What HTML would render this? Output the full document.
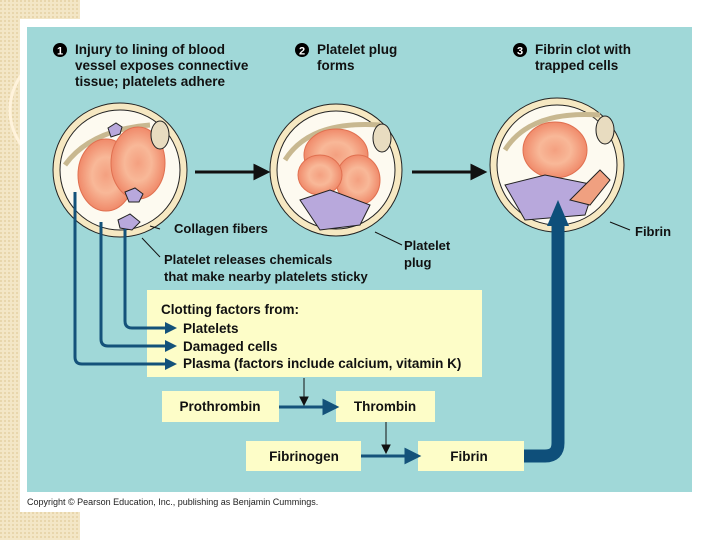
<!DOCTYPE html>
<html><head><meta charset="utf-8"><style>
html,body{margin:0;padding:0;width:720px;height:540px;overflow:hidden;background:#fff;font-family:"Liberation Sans",sans-serif;}
</style></head><body>
<svg width="720" height="540" viewBox="0 0 720 540" xmlns="http://www.w3.org/2000/svg" font-family="Liberation Sans, sans-serif">
<defs>
<pattern id="p" width="4" height="4" patternUnits="userSpaceOnUse"><rect width="4" height="4" fill="#f3e6c6"/><rect width="2" height="2" fill="#e8d6ac"/></pattern>
<radialGradient id="rbc" cx="50%" cy="50%" r="50%"><stop offset="0" stop-color="#f4a080"/><stop offset="0.5" stop-color="#f8b898"/><stop offset="1" stop-color="#f08a6a"/></radialGradient>
</defs>
<rect x="0" y="0" width="80" height="540" fill="url(#p)"/>
<circle cx="70" cy="110" r="60" fill="none" stroke="#fff3dc" stroke-width="3"/>
<rect x="20" y="19" width="700" height="493" fill="#fff"/>
<rect x="80" y="512" width="640" height="28" fill="#fff"/>
<rect x="27" y="27" width="665" height="465" fill="#a0d8d8"/>
<!-- headers -->
<g font-weight="bold" font-size="13.5" fill="#111">
<circle cx="60" cy="50" r="7" fill="#000"/><text x="60" y="54.5" font-size="11" fill="#fff" text-anchor="middle">1</text>
<text x="75" y="54">Injury to lining of blood</text><text x="75" y="70">vessel exposes connective</text><text x="75" y="86">tissue; platelets adhere</text>
<circle cx="302" cy="50" r="7" fill="#000"/><text x="302" y="54.5" font-size="11" fill="#fff" text-anchor="middle">2</text>
<text x="317" y="54">Platelet plug</text><text x="317" y="70">forms</text>
<circle cx="520" cy="50" r="7" fill="#000"/><text x="520" y="54.5" font-size="11" fill="#fff" text-anchor="middle">3</text>
<text x="535" y="54">Fibrin clot with</text><text x="535" y="70">trapped cells</text>
</g>
<!-- circles -->
<g stroke="#222" stroke-width="1">
<circle cx="120" cy="170" r="67" fill="#f6e8c2"/><circle cx="120" cy="170" r="60" fill="#fdfaf0"/>
<circle cx="336" cy="170" r="66" fill="#f6e8c2"/><circle cx="336" cy="170" r="59" fill="#fdfaf0"/>
<circle cx="557" cy="165" r="67" fill="#f6e8c2"/><circle cx="557" cy="165" r="60" fill="#fdfaf0"/>
<path d="M65,165 Q90,130 150,125" fill="none" stroke="#c8b890" stroke-width="5"/>
<path d="M285,160 Q310,120 380,125" fill="none" stroke="#c8b890" stroke-width="5"/>
<path d="M505,150 Q530,110 600,115" fill="none" stroke="#c8b890" stroke-width="5"/>
<ellipse cx="106" cy="175" rx="28" ry="36" fill="url(#rbc)" stroke="#e07050"/>
<ellipse cx="138" cy="163" rx="27" ry="36" fill="url(#rbc)" stroke="#e07050"/>
<ellipse cx="336" cy="155" rx="32" ry="26" fill="url(#rbc)" stroke="#e07050"/>
<ellipse cx="358" cy="180" rx="22" ry="25" fill="url(#rbc)" stroke="#e07050"/>
<ellipse cx="320" cy="175" rx="22" ry="20" fill="url(#rbc)" stroke="#e07050"/>
<ellipse cx="555" cy="150" rx="32" ry="28" fill="url(#rbc)" stroke="#e07050"/>
<path d="M108,128 l8,-5 l6,4 l-2,7 l-9,3 z" fill="#b8a8dc"/>
<path d="M125,192 l10,-4 l8,6 l-4,8 l-10,0 z" fill="#b8a8dc"/>
<path d="M118,220 l12,-6 l10,8 l-8,8 l-12,-2 z" fill="#b8a8dc"/>
<path d="M300,200 l30,-10 l40,15 l-10,20 l-40,5 z" fill="#b8a8dc"/>
<path d="M505,185 l40,-10 l50,10 l-10,30 l-60,5 z" fill="#b8a8dc"/>
<path d="M600,170 l10,10 l-20,25 l-20,-5 z" fill="#f0a080"/>
<ellipse cx="160" cy="135" rx="9" ry="14" fill="#e8dcc0"/>
<ellipse cx="382" cy="138" rx="9" ry="14" fill="#e8dcc0"/>
<ellipse cx="605" cy="130" rx="9" ry="14" fill="#e8dcc0"/>
</g>
<!-- big arrows between circles -->
<g stroke="#111" stroke-width="3" fill="#111">
<line x1="195" y1="172" x2="255" y2="172"/><path d="M255,166 l12,6 l-12,6 z"/>
<line x1="412" y1="172" x2="472" y2="172"/><path d="M472,166 l12,6 l-12,6 z"/>
</g>
<!-- labels -->
<g font-weight="bold" font-size="13" fill="#111">
<text x="174" y="233">Collagen fibers</text>
<text x="164" y="264">Platelet releases chemicals</text><text x="164" y="281">that make nearby platelets sticky</text>
<text x="404" y="250">Platelet</text><text x="404" y="267">plug</text>
<text x="635" y="236">Fibrin</text>
</g>
<g stroke="#111" stroke-width="1"><line x1="160" y1="229" x2="150" y2="226"/><line x1="160" y1="257" x2="142" y2="238"/><line x1="402" y1="245" x2="375" y2="232"/><line x1="630" y1="230" x2="610" y2="222"/></g>
<!-- clotting box -->
<rect x="147" y="290" width="335" height="87" fill="#fdfdc8"/>
<g font-weight="bold" font-size="13.5" fill="#111">
<text x="161" y="314">Clotting factors from:</text>
<text x="183" y="333">Platelets</text><text x="183" y="351">Damaged cells</text><text x="183" y="368">Plasma (factors include calcium, vitamin K)</text>
</g>
<g fill="none" stroke="#14527a" stroke-width="3">
<path d="M75,192 V357 Q75,364 82,364 H168"/>
<path d="M101,222 V339 Q101,346 108,346 H168"/>
<path d="M125,229 V321 Q125,328 132,328 H168"/>
</g>
<g fill="#14527a"><path d="M165,322 l12,6 l-12,6z"/><path d="M165,340 l12,6 l-12,6z"/><path d="M165,358 l12,6 l-12,6z"/></g>
<!-- lower boxes -->
<rect x="162" y="391" width="117" height="31" fill="#fdfdc8"/>
<rect x="336" y="391" width="99" height="31" fill="#fdfdc8"/>
<rect x="246" y="441" width="115" height="30" fill="#fdfdc8"/>
<rect x="418" y="441" width="106" height="30" fill="#fdfdc8"/>
<g font-weight="bold" font-size="13.5" fill="#111" text-anchor="middle">
<text x="220" y="411">Prothrombin</text><text x="385" y="411">Thrombin</text>
<text x="304" y="461">Fibrinogen</text><text x="469" y="461">Fibrin</text>
</g>
<g stroke="#14527a" stroke-width="3" fill="#14527a">
<line x1="279" y1="407" x2="325" y2="407"/><path d="M324,401 l12,6 l-12,6z"/>
<line x1="361" y1="456" x2="407" y2="456"/><path d="M406,450 l12,6 l-12,6z"/>
</g>
<g stroke="#111" stroke-width="1" fill="#111">
<line x1="304" y1="378" x2="304" y2="404"/><path d="M300,397 l4,8 l4,-8z"/>
<line x1="386" y1="422" x2="386" y2="452"/><path d="M382,445 l4,8 l4,-8z"/>
</g>
<path d="M524,456 H545 Q558,456 558,443 V225" fill="none" stroke="#0e4f7a" stroke-width="13"/>
<path d="M547,226 L558,200 L569,226 z" fill="#0e4f7a"/>
<text x="27" y="505" font-size="9" fill="#222">Copyright © Pearson Education, Inc., publishing as Benjamin Cummings.</text>
</svg>
</body></html>
